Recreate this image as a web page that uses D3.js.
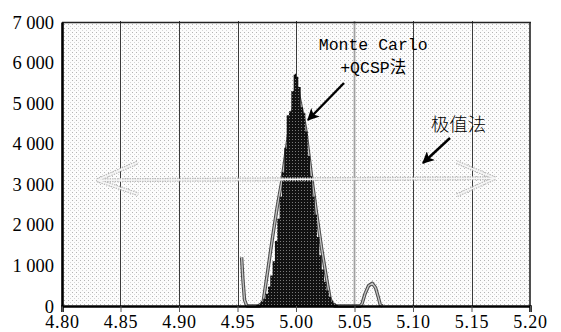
<!DOCTYPE html>
<html>
<head>
<meta charset="utf-8">
<script src="https://cdn.jsdelivr.net/npm/d3@7"></script>
<style>
  html, body { margin: 0; padding: 0; background: #fff; }
  svg { display: block; }
</style>
</head>
<body>
<svg id="chart" width="561" height="332"></svg>
<script>
// Axis ticks and labels
const xTicks = [4.80, 4.85, 4.90, 4.95, 5.00, 5.05, 5.10, 5.15, 5.20];
const xTickLabels = ["4.80", "4.85", "4.90", "4.95", "5.00", "5.05", "5.10", "5.15", "5.20"];
const yTicks = [0, 1000, 2000, 3000, 4000, 5000, 6000, 7000];
const yTickLabels = ["0", "1 000", "2 000", "3 000", "4 000", "5 000", "6 000", "7 000"];

// Monte Carlo + QCSP histogram: bin centres (width 0.002) and counts
const mcBinCentres = [4.967, 4.969, 4.971, 4.973, 4.975, 4.977, 4.979, 4.981, 4.983, 4.985,
  4.987, 4.989, 4.991, 4.993, 4.995, 4.997, 4.999, 5.001, 5.003, 5.005,
  5.007, 5.009, 5.011, 5.013, 5.015, 5.017, 5.019, 5.021, 5.023, 5.025,
  5.027, 5.029, 5.031, 5.033, 5.035];
const mcCounts = [30, 60, 110, 180, 300, 480, 750, 1100, 1600, 2150,
  2700, 3300, 3900, 4700, 4800, 5300, 5700, 5650, 5400, 4900,
  4750, 4300, 3700, 3200, 2700, 2250, 1700, 1250, 900, 600,
  380, 230, 130, 70, 30];
const mcBinWidth = 0.002;

// Extreme-value method curve
const evX = [4.9535, 4.9545, 4.956, 4.958, 4.969, 4.972, 4.976, 4.980, 4.984, 4.988,
  4.994, 5.000, 5.002, 5.008, 5.0137, 5.018, 5.022, 5.026, 5.029, 5.031,
  5.033, 5.055, 5.0565, 5.059, 5.062, 5.0652, 5.068, 5.0705, 5.072, 5.074];
const evY = [1200, 700, 150, 0, 0, 120, 900, 1700, 2450, 3100,
  4300, 5200, 5250, 4400, 3100, 2200, 1400, 700, 200, 30,
  0, 0, 60, 300, 500, 560, 450, 200, 30, 0];

// Annotation text
const mcLabel = ["Monte Carlo", "+QCSP法"];
const evLabel = "极值法";

const svg = d3.select("#chart");
const margin = { left: 62, right: 31, top: 22, bottom: 26 };
const W = 561, H = 332;

const x = d3.scaleLinear().domain([4.80, 5.20]).range([margin.left, W - margin.right]);
const y = d3.scaleLinear().domain([0, 7000]).range([H - margin.bottom, margin.top]);

const defs = svg.append("defs");
// light stipple for the plot background
const bg = defs.append("pattern").attr("id", "bgDots")
  .attr("patternUnits", "userSpaceOnUse").attr("width", 4).attr("height", 4);
bg.append("rect").attr("width", 4).attr("height", 4).attr("fill", "#fcfcfc");
bg.append("rect").attr("x", 0).attr("y", 0).attr("width", 1).attr("height", 1).attr("fill", "#b4b4b4");
bg.append("rect").attr("x", 2).attr("y", 2).attr("width", 1).attr("height", 1).attr("fill", "#d6d6d6");

// dark stipple for the histogram
const hp = defs.append("pattern").attr("id", "histDots")
  .attr("patternUnits", "userSpaceOnUse").attr("width", 3).attr("height", 3);
hp.append("rect").attr("width", 3).attr("height", 3).attr("fill", "#121212");
hp.append("rect").attr("x", 1).attr("y", 1).attr("width", 1).attr("height", 1).attr("fill", "#7a7a7a");

defs.append("marker").attr("id", "blackHead")
  .attr("viewBox", "0 0 10 10").attr("refX", 9).attr("refY", 5)
  .attr("markerWidth", 5).attr("markerHeight", 5).attr("markerUnits", "strokeWidth")
  .attr("orient", "auto")
  .append("path").attr("d", "M0,0 L10,5 L0,10 L2.5,5 Z").attr("fill", "#000");

const x0 = x.range()[0], x1 = x.range()[1];
const y0 = y.range()[0], y1 = y.range()[1];

// plot background
svg.append("rect").attr("x", x0).attr("y", y1)
  .attr("width", x1 - x0).attr("height", y0 - y1).attr("fill", "url(#bgDots)");

// vertical grid lines
svg.append("g").selectAll("line")
  .data(xTicks.filter(d => d > 4.80 && d < 5.20))
  .join("line")
  .attr("x1", d => Math.round(x(d)) + 0.5).attr("x2", d => Math.round(x(d)) + 0.5)
  .attr("y1", y1 - 1).attr("y2", y0)
  .attr("stroke", d => Math.abs(d - 5.05) < 1e-9 ? "#a0a0a0" : "#3a3a3a")
  .attr("stroke-width", d => Math.abs(d - 5.05) < 1e-9 ? 1.8 : 1);

// extreme-value method curve: dark outer stroke with lighter core (drawn under the histogram)
const evPts = evX.map((v, i) => [v, evY[i]]);
const evLine = d3.line().x(d => x(d[0])).y(d => y(d[1]));
svg.append("path").datum(evPts).attr("d", evLine)
  .attr("fill", "none").attr("stroke", "#4a4a4a").attr("stroke-width", 3.4)
  .attr("stroke-linejoin", "round");
svg.append("path").datum(evPts).attr("d", evLine)
  .attr("fill", "none").attr("stroke", "#c4c4c4").attr("stroke-width", 1.3)
  .attr("stroke-linejoin", "round");

// histogram (stepped area through the bin edges)
const histPts = [];
mcBinCentres.forEach((c, i) => {
  histPts.push([c - mcBinWidth / 2, mcCounts[i]]);
  histPts.push([c + mcBinWidth / 2, mcCounts[i]]);
});
const histArea = d3.area()
  .x(d => x(d[0])).y0(y(0)).y1(d => y(d[1]))
  .curve(d3.curveLinear);
svg.append("path").datum(histPts)
  .attr("d", histArea)
  .attr("fill", "url(#histDots)");
// peak needle on the top bin
svg.append("line")
  .attr("x1", x(4.9995)).attr("x2", x(4.9995))
  .attr("y1", y(d3.max(mcCounts)) - 1).attr("y2", y(d3.max(mcCounts)) + 4)
  .attr("stroke", "#000").attr("stroke-width", 1);

// wide double-headed range arrow
const rangeArrow = svg.append("g");
const ax0 = x(4.83), ax1 = x(5.17), ay = y(3100);
const arrowSegs = [
  [[ax0, ay], [ax1, ay - 2]],
  [[ax0, ay], [ax0 + 41, ay - 18]],
  [[ax0, ay], [ax0 + 41, ay + 14]],
  [[ax1, ay - 2], [ax1 - 38, ay - 18]],
  [[ax1, ay - 2], [ax1 - 38, ay + 15]]
];
rangeArrow.selectAll("path.o").data(arrowSegs).join("path").attr("class", "o")
  .attr("d", d => d3.line()(d))
  .attr("stroke", "#b8b8b8").attr("stroke-width", 4).attr("stroke-dasharray", "1.5 1")
  .attr("fill", "none");
rangeArrow.selectAll("path.i").data(arrowSegs).join("path").attr("class", "i")
  .attr("d", d => d3.line()(d))
  .attr("stroke", "#f6f6f6").attr("stroke-width", 1.6).attr("fill", "none");

// frame: top and right borders
svg.append("line").attr("x1", x0).attr("x2", x1 + 1).attr("y1", y1 + 0.5).attr("y2", y1 + 0.5)
  .attr("stroke", "#222").attr("stroke-width", 1.4);
svg.append("line").attr("x1", x1).attr("x2", x1).attr("y1", y1).attr("y2", y0)
  .attr("stroke", "#222").attr("stroke-width", 1.6);

// x axis
const xAxis = d3.axisBottom(x).tickValues(xTicks).tickSize(6)
  .tickFormat((d, i) => xTickLabels[i]);
const gx = svg.append("g").attr("transform", `translate(0,${y0})`).call(xAxis);
gx.select(".domain").attr("stroke", "#000").attr("stroke-width", 2.6);
gx.selectAll(".tick line").attr("stroke", "#555").attr("stroke-width", 1);
gx.selectAll(".tick text")
  .attr("y", 22).attr("dy", 0)
  .attr("fill", "#000")
  .style("font-family", "'Liberation Serif', 'DejaVu Serif', serif")
  .style("font-size", "18px")
  .style("letter-spacing", "0.8px");

// y axis
const yAxis = d3.axisLeft(y).tickValues(yTicks).tickSize(0).tickPadding(8)
  .tickFormat((d, i) => yTickLabels[i]);
const gy = svg.append("g").attr("transform", `translate(${x0},0)`).call(yAxis);
gy.select(".domain").attr("stroke", "#000").attr("stroke-width", 2.6);
gy.selectAll(".tick text")
  .attr("dy", "0.33em")
  .attr("fill", "#000")
  .style("font-family", "'Liberation Serif', 'DejaVu Serif', serif")
  .style("font-size", "18.5px");

// annotations
const ann = svg.append("g").attr("fill", "#000");
ann.append("text").attr("x", x(5.066)).attr("y", 50).attr("text-anchor", "middle")
  .style("font-family", "'Liberation Mono', 'DejaVu Sans Mono', monospace")
  .style("font-size", "16.5px").text(mcLabel[0]);
const t2 = ann.append("text").attr("x", x(5.066)).attr("y", 73).attr("text-anchor", "middle")
  .style("font-size", "16.5px");
t2.append("tspan").style("font-family", "'Liberation Mono', monospace").text("+QCSP");
t2.append("tspan").style("font-family", "'Noto Sans CJK SC', sans-serif").text(mcLabel[1].slice(5));
ann.append("text").attr("x", x(5.139)).attr("y", 131).attr("text-anchor", "middle")
  .style("font-family", "'Noto Sans CJK SC', sans-serif")
  .style("font-size", "18.5px").style("font-weight", "300").text(evLabel);

// pointer arrows
svg.append("line").attr("x1", 344).attr("y1", 83).attr("x2", 308).attr("y2", 120)
  .attr("stroke", "#000").attr("stroke-width", 2.4).attr("marker-end", "url(#blackHead)");
svg.append("line").attr("x1", 450).attr("y1", 138).attr("x2", 423).attr("y2", 163)
  .attr("stroke", "#000").attr("stroke-width", 2.4).attr("marker-end", "url(#blackHead)");
</script>
</body>
</html>
